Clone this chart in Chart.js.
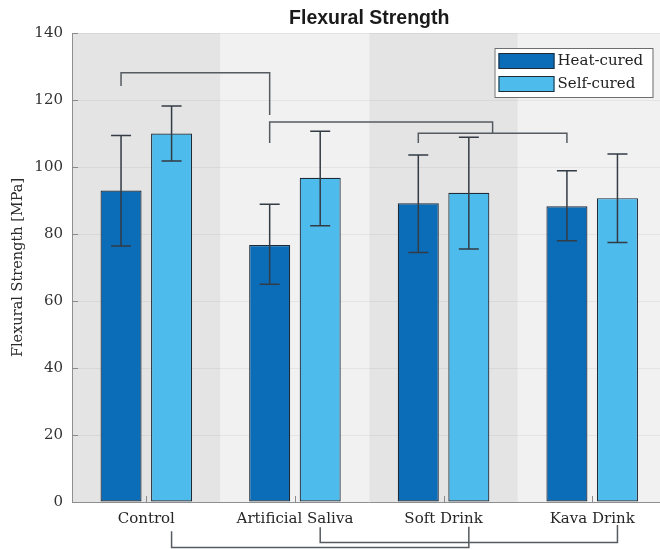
<!DOCTYPE html>
<html>
<head>
<meta charset="utf-8">
<script src="https://cdn.jsdelivr.net/npm/chart.js@4.4.1/dist/chart.umd.min.js"></script>
<style>
  html, body { margin: 0; padding: 0; background: #ffffff; overflow: hidden; width: 660px; height: 549px; }
  #wrap { position: relative; width: 668px; height: 549px; }
</style>
</head>
<body>
<div id="wrap"><canvas id="c" width="668" height="549"></canvas></div>
<script>
// Flexural strength (MPa) per immersion medium, mean with error whiskers
const categories = ['Control', 'Artificial Saliva', 'Soft Drink', 'Kava Drink'];
const seriesNames = ['Heat-cured', 'Self-cured'];
const heatCured = [93.0, 76.7, 89.2, 88.3];
const selfCured = [110.0, 96.8, 92.3, 90.7];
const heatLow  = [76.4, 65.0, 74.5, 78.0];
const heatHigh = [109.4, 88.9, 103.6, 98.9];
const selfLow  = [101.8, 82.5, 75.5, 77.5];
const selfHigh = [118.2, 110.7, 108.9, 103.9];
const yTicks = [0, 20, 40, 60, 80, 100, 120, 140];

// Significance brackets: ends are [series, category] bars (x averaged when several)
const bracketLeft  = [[[0, 0]], [[0, 1]], [[0, 2]], [[1, 0]], [[1, 1]]];
const bracketRight = [[[0, 1]], [[0, 2], [0, 3]], [[0, 3]], [[1, 2]], [[1, 3]]];
const bracketLevel     = [128.1, 113.4, 110.1, -13.6, -12.1];
const bracketLeftTip   = [124.2, 107.2, 107.2, -8.7, -7.5];
const bracketRightTip  = [115.5, 110.1, 107.2, -7.4, -6.9];

const lows = [heatLow, selfLow];
const highs = [heatHigh, selfHigh];
const colors = ['#0b6cb7', '#4dbbeb'];
const serif = '"DejaVu Serif", "Liberation Serif", serif';

// Alternating shaded bands behind each category, faint inward tick marks
const backdrop = {
  id: 'backdrop',
  beforeDraw(chart) {
    const { ctx, chartArea: a, scales: { x, y } } = chart;
    const step = x.getPixelForValue(1) - x.getPixelForValue(0);
    ctx.save();
    categories.forEach((c, i) => {
      const cx = x.getPixelForValue(i);
      ctx.fillStyle = i % 2 === 0 ? '#e4e4e4' : '#f1f1f1';
      ctx.fillRect(cx - step / 2, a.top, step, a.bottom - a.top);
    });
    ctx.restore();
  },
  afterDraw(chart) {
    const { ctx, chartArea: a, scales: { x, y } } = chart;
    ctx.save();
    ctx.strokeStyle = '#8a8a8a';
    ctx.lineWidth = 1;
    yTicks.forEach(v => {
      const py = Math.round(y.getPixelForValue(v)) + 0.5;
      ctx.beginPath(); ctx.moveTo(a.left, py); ctx.lineTo(a.left + 6, py); ctx.stroke();
    });
    categories.forEach((c, i) => {
      const px = Math.round(x.getPixelForValue(i)) + 0.5;
      ctx.beginPath(); ctx.moveTo(px, a.bottom); ctx.lineTo(px, a.bottom - 6); ctx.stroke();
    });
    ctx.restore();
  }
};

// Whiskers on every bar
const whiskers = {
  id: 'whiskers',
  afterDatasetsDraw(chart) {
    const { ctx, scales: { y } } = chart;
    ctx.save();
    ctx.strokeStyle = '#333b44';
    ctx.lineWidth = 1.5;
    [0, 1].forEach(s => {
      const meta = chart.getDatasetMeta(s);
      meta.data.forEach((bar, i) => {
        const px = bar.x;
        const lo = y.getPixelForValue(lows[s][i]);
        const hi = y.getPixelForValue(highs[s][i]);
        ctx.beginPath();
        ctx.moveTo(px, lo); ctx.lineTo(px, hi);
        ctx.moveTo(px - 10, lo); ctx.lineTo(px + 10, lo);
        ctx.moveTo(px - 10, hi); ctx.lineTo(px + 10, hi);
        ctx.stroke();
      });
    });
    ctx.restore();
  }
};

// Significance brackets above the bars and under the category labels
const brackets = {
  id: 'brackets',
  afterDraw(chart) {
    const { ctx, scales: { y } } = chart;
    const barX = refs => refs.reduce((s, r) => s + chart.getDatasetMeta(r[0]).data[r[1]].x, 0) / refs.length;
    ctx.save();
    ctx.strokeStyle = '#555b60';
    ctx.lineWidth = 1.5;
    bracketLevel.forEach((lvl, k) => {
      const x1 = barX(bracketLeft[k]);
      const x2 = barX(bracketRight[k]);
      const yl = y.getPixelForValue(lvl);
      ctx.beginPath();
      ctx.moveTo(x1, y.getPixelForValue(bracketLeftTip[k]));
      ctx.lineTo(x1, yl);
      ctx.lineTo(x2, yl);
      ctx.lineTo(x2, y.getPixelForValue(bracketRightTip[k]));
      ctx.stroke();
    });
    ctx.restore();
  }
};

// Title, y-axis caption and boxed legend
const annotations = {
  id: 'annotations',
  afterDraw(chart) {
    const { ctx, chartArea: a } = chart;
    ctx.save();
    ctx.fillStyle = '#1a1a1a';
    ctx.font = 'bold 19.5px "Liberation Sans", Arial, sans-serif';
    ctx.textAlign = 'center';
    ctx.textBaseline = 'middle';
    ctx.fillText('Flexural Strength', (a.left + a.right) / 2, 19);

    ctx.save();
    ctx.translate(18, (a.top + a.bottom) / 2);
    ctx.rotate(-Math.PI / 2);
    ctx.fillStyle = '#2a2a2a';
    ctx.font = '14.5px ' + serif;
    ctx.fillText('Flexural Strength [MPa]', 0, 0);
    ctx.restore();

    const bx = a.right - 172, by = a.top + 15, bw = 158, bh = 49;
    ctx.fillStyle = '#ffffff';
    ctx.fillRect(bx, by, bw, bh);
    ctx.strokeStyle = '#6e6e6e';
    ctx.lineWidth = 1;
    ctx.strokeRect(bx + 0.5, by + 0.5, bw, bh);
    ctx.font = '15px ' + serif;
    ctx.textAlign = 'left';
    seriesNames.forEach((name, i) => {
      const sy = by + 5 + i * 23;
      ctx.fillStyle = colors[i];
      ctx.fillRect(bx + 4, sy, 56, 16);
      ctx.strokeStyle = '#1e2a36';
      ctx.strokeRect(bx + 4.5, sy + 0.5, 55, 15);
      ctx.fillStyle = '#222222';
      ctx.fillText(name, bx + 63, sy + 8.5);
    });
    ctx.restore();
  }
};

new Chart(document.getElementById('c'), {
  type: 'bar',
  data: {
    labels: categories,
    datasets: [
      { label: seriesNames[0], data: heatCured, backgroundColor: colors[0], borderColor: '#1e2a36', borderWidth: 1.2, borderSkipped: false },
      { label: seriesNames[1], data: selfCured, backgroundColor: colors[1], borderColor: '#1e2a36', borderWidth: 1.2, borderSkipped: false }
    ]
  },
  options: {
    responsive: false,
    animation: false,
    devicePixelRatio: 1,
    layout: { padding: { top: 33, right: 1.5, left: 0, bottom: 0 } },
    datasets: { bar: { categoryPercentage: 0.68, barPercentage: 0.812 } },
    plugins: { legend: { display: false }, title: { display: false }, tooltip: { enabled: false } },
    scales: {
      x: {
        grid: { display: false, drawTicks: false },
        border: { display: true, color: '#8f8f8f', width: 1 },
        ticks: { font: { family: serif, size: 15 }, color: '#262626', padding: 8, maxRotation: 0 },
        afterFit(s) { s.height = 47; }
      },
      y: {
        min: 0, max: 140,
        afterBuildTicks(s) { s.ticks = yTicks.map(v => ({ value: v })); },
        grid: { color: 'rgba(0,0,0,0.05)', drawTicks: false },
        border: { display: true, color: '#8f8f8f', width: 1 },
        ticks: { font: { family: serif, size: 15 }, color: '#333333', padding: 9 },
        afterFit(s) { s.width = 72; }
      }
    }
  },
  plugins: [backdrop, whiskers, brackets, annotations]
});
</script>
</body>
</html>
